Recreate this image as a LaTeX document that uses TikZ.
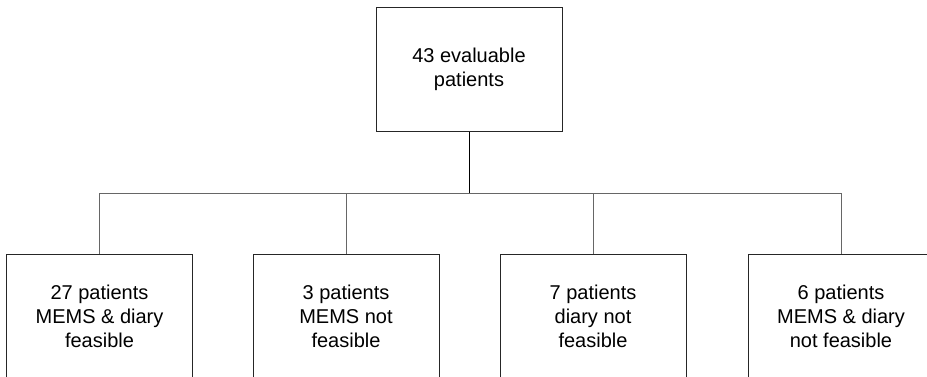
\documentclass[tikz,border=0pt]{standalone}
\usepackage{fontspec}
\setmainfont{Liberation Sans}
\usepackage{tikz}
\newcommand{\drop}[1]{\draw[link] (#1.north) -- (#1.north |- bar);}

\begin{document}
\begin{tikzpicture}[x=1pt,y=-1pt,
	box/.style={draw=black!85,line width=1pt,minimum width=186pt,minimum height=124pt,
		align=center,font=\fontsize{20}{24}\selectfont,inner sep=0pt},
	link/.style={draw=black!60,line width=1pt}]
	% Page size
	\useasboundingbox (0,0) rectangle (927,376);
	\clip (0,0) rectangle (927,376);
	
	% Top box
	\node[box] (all) at (469,69) {43 evaluable\\patients};
	
	% Bottom boxes
	\node[box] (both) at (99.5,316) {27 patients\\MEMS \& diary\\feasible};
	\node[box] (nomems) at (346,316) {3 patients\\MEMS not\\feasible};
	\node[box] (nodiary) at (593,316) {7 patients\\diary not\\feasible};
	\node[box] (none) at (841,316) {6 patients\\MEMS \& diary\\not feasible};
	
	% Connectors
	\draw[line width=1pt] (all.south) -- (469,193) coordinate (bar);
	\draw[link] (both.north) -- (both.north |- bar) -- (none.north |- bar) -- (none.north);
	\drop{nomems}
	\drop{nodiary}
\end{tikzpicture}
\end{document}
